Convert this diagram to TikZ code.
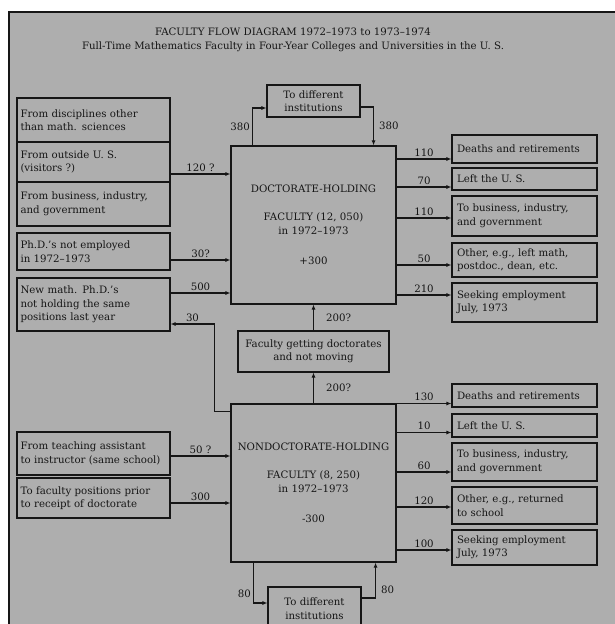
\documentclass[tikz,border=0pt]{standalone}
\usepackage{fontspec}
\setmainfont{DejaVu Serif}
\usepackage{xcolor}
\usetikzlibrary{arrows.meta, positioning, calc}

\definecolor{paper}{RGB}{174,174,174}
\definecolor{ink}{RGB}{22,22,22}

\tikzset{
    flowbox/.style={draw=ink, line width=1.1pt, rectangle, inner sep=0pt, text=ink, font=\fontsize{10.2}{13.5}\selectfont},
    inbox/.style={flowbox, minimum width=153pt, text width=146pt, align=left},
    outbox/.style={flowbox, minimum width=145pt, text width=135pt, align=left},
    midbox/.style={flowbox, align=center},
    bigbox/.style={flowbox, minimum width=165pt, minimum height=158pt, align=center},
    flow/.style={draw=ink, line width=1.1pt, -{Latex[length=5pt, width=4pt]}},
    num/.style={text=ink, inner sep=2pt, font=\fontsize{10.2}{11}\selectfont}
}

\begin{document}
\begin{tikzpicture}[x=1pt, y=-1pt]
    \useasboundingbox (0,0) rectangle (615,624);
    % page and frame
    \fill[white] (0,0) rectangle (615,624);
    \fill[paper] (9,12) rectangle (615,624);
    \draw[ink, line width=1.6pt] (9,624) -- (9,12) -- (615,12);

    % title
    \node[num, align=center, font=\fontsize{10.2}{14}\selectfont] (title) at (293,40)
        {FACULTY FLOW DIAGRAM 1972--1973 to 1973--1974\\
         Full-Time Mathematics Faculty in Four-Year Colleges and Universities in the U. S.};

    % main blocks
    \node[bigbox] (doc) at (313.5,225)
        {DOCTORATE-HOLDING\\[15pt] FACULTY (12, 050)\\ in 1972--1973\\[17pt] +300};
    \node[bigbox] (nondoc) at (313.5,483)
        {NONDOCTORATE-HOLDING\\[15pt] FACULTY (8, 250)\\ in 1972--1973\\[17pt] -300};

    % moves between institutions
    \node[midbox, minimum width=93pt, minimum height=32pt] (topmove) at (313.5,101)
        {To different\\institutions};
    \draw[flow] ([xshift=22pt]doc.north west) |- node[num, pos=0.25, left] {380} ([yshift=-7pt]topmove.west);
    \draw[flow] ([yshift=-6pt]topmove.east) -| node[num, pos=0.75, right, xshift=3pt] {380} ([xshift=-23pt]doc.north east);

    \node[midbox, minimum width=93pt, minimum height=43pt] (botmove) at (314.5,608.5)
        {To different\\institutions};
    \draw[flow] ([xshift=23pt]nondoc.south west) |- node[num, pos=0.38, left] {80} ([yshift=5.5pt]botmove.west);
    \draw[flow] ([yshift=10.5pt]botmove.east) -| node[num, pos=0.61, right, xshift=3pt] {80} ([xshift=-21pt]nondoc.south east);

    % getting doctorates
    \node[midbox, minimum width=151pt, minimum height=41pt] (getdoc) at (313.5,351.5)
        {Faculty getting doctorates\\and not moving};
    \draw[flow] (nondoc.north) -- node[num, right, xshift=10pt] {200?} (getdoc.south);
    \draw[flow] (getdoc.north) -- node[num, right, xshift=10pt] {200?} (doc.south);

    % inflows, doctorate-holding
    \node[inbox, minimum height=44pt] (src1) at (93.5,120) {From disciplines other\\than math. sciences};
    \node[inbox, minimum height=40pt] (src2) at (93.5,162) {From outside U. S.\\(visitors ?)};
    \node[inbox, minimum height=44pt] (src3) at (93.5,204) {From business, industry,\\and government};
    \node[inbox, minimum height=37pt] (phd) at (93.5,251.5) {Ph.D.'s not employed\\in 1972--1973};
    \node[inbox, minimum height=53pt] (newphd) at (93.5,304.5) {New math. Ph.D.'s\\not holding the same\\positions last year};
    \draw[flow] ([yshift=-12pt]src2.east) -- node[num, above] {120 ?} ([yshift=-12pt]src2.east -| doc.west);
    \draw[flow] ([yshift=-8.5pt]phd.east) -- node[num, above] {30?} ([yshift=-8.5pt]phd.east -| doc.west);
    \draw[flow] ([yshift=11.5pt]newphd.east) -- node[num, above] {500} ([yshift=11.5pt]newphd.east -| doc.west);

    % back to doctorate-holding box
    \draw[flow] ([yshift=-8pt]nondoc.north west) -- ++(-16,0) |- node[num, pos=0.75, above] {30} ([yshift=-19.5pt]newphd.east);

    % inflows, nondoctorate-holding
    \node[inbox, minimum height=43pt] (ta) at (93.5,453.5) {From teaching assistant\\to instructor (same school)};
    \node[inbox, minimum height=40pt] (prior) at (93.5,498) {To faculty positions prior\\to receipt of doctorate};
    \draw[flow] ([yshift=-2.5pt]ta.east) -- node[num, above] {50 ?} ([yshift=-2.5pt]ta.east -| nondoc.west);
    \draw[flow] ([yshift=-5pt]prior.east) -- node[num, above] {300} ([yshift=-5pt]prior.east -| nondoc.west);

    % outflows, doctorate-holding
    \foreach \n/\y/\h/\s/\v/\txt in {
        dr1/149/28pt/-10pt/110/{Deaths and retirements},
        dr2/179/22pt/-8pt/70/{Left the U. S.},
        dr3/216/40pt/-2pt/110/{To business, industry,\\and government},
        dr4/260/34pt/-5pt/50/{Other, e.g., left math,\\postdoc., dean, etc.},
        dr5/302.5/39pt/7.5pt/210/{Seeking employment\\July, 1973}} {
        \node[outbox, minimum height=\h] (\n) at (524.5,\y) {\txt};
        \draw[flow] ([yshift=\s]\n.west -| doc.east) -- node[num, above] {\v} ([yshift=\s]\n.west);
    }

    % outflows, nondoctorate-holding
    \foreach \n/\y/\h/\s/\v/\txt in {
        nr1/395.5/23pt/-8pt/130/{Deaths and retirements},
        nr2/425.5/23pt/-7pt/10/{Left the U. S.},
        nr3/462/38pt/-10pt/60/{To business, industry,\\and government},
        nr4/505.5/37pt/-1.5pt/120/{Other, e.g., returned\\to school},
        nr5/547.5/35pt/-2.5pt/100/{Seeking employment\\July, 1973}} {
        \node[outbox, minimum height=\h] (\n) at (524.5,\y) {\txt};
        \draw[flow] ([yshift=\s]\n.west -| nondoc.east) -- node[num, above] {\v} ([yshift=\s]\n.west);
    }
\end{tikzpicture}
\end{document}
